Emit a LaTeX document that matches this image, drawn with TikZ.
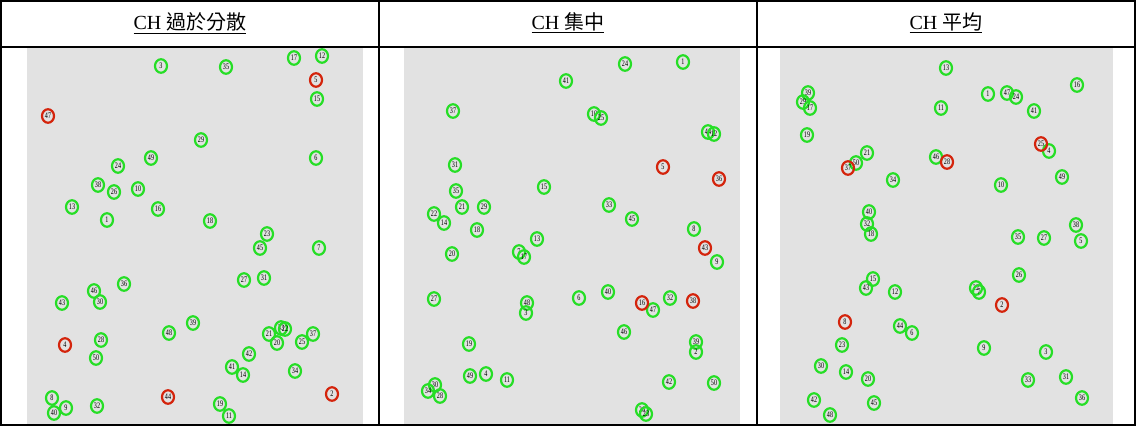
\documentclass[tikz,border=0pt]{standalone}
\usepackage{fontspec}
\setmainfont{Liberation Serif}
\newfontfamily\cjk{Noto Sans CJK TC}
\usepackage{xcolor}
\usetikzlibrary{positioning,shapes.geometric}

\definecolor{plotbg}{RGB}{226,226,226}
\definecolor{chgreen}{RGB}{38,222,38}
\definecolor{chred}{RGB}{212,36,12}

\tikzset{
  sensor/.style={ellipse,draw=chgreen,line width=2.2pt,inner sep=0pt,
    minimum width=12pt,minimum height=13.5pt,font=\fontsize{8.5}{8.5}\selectfont},
  head/.style={sensor,draw=chred},
  title/.style={font=\fontsize{20}{22}\selectfont,inner sep=0pt}
}
\newcommand{\idx}[1]{\scalebox{0.72}[1]{#1}}

\begin{document}
\begin{tikzpicture}[x=1pt,y=-1pt]
  \useasboundingbox (0,0) rectangle (1136,426);
  \fill[white] (0,0) rectangle (1136,426);
  % gray plot areas
  \fill[plotbg] (27,48) rectangle (363,425);
  \fill[plotbg] (404,48) rectangle (740,425);
  \fill[plotbg] (780,48) rectangle (1113,425);
  % table rules
  \draw[line width=1.2pt] (1,1) rectangle (1135,425);
  \draw[line width=1.2pt] (1,47)--(1135,47);
  \draw[line width=1.2pt] (379,1)--(379,425);
  \draw[line width=1.2pt] (757,1)--(757,425);
  % headers
  \node[title] (h1) at (190,23) {\underline{CH {\cjk 過於分散}}};
  \node[title] (h2) at (568,23) {\underline{CH {\cjk 集中}}};
  \node[title] (h3) at (946,23) {\underline{CH {\cjk 平均}}};
  % CH too scattered
  \foreach \n/\x/\y in {3/161/66,24/118/166,49/151/158,38/98/185,26/114/192,10/138/189,
      13/72/207,16/158/209,1/107/220,35/226/67,17/294/58,12/322/56,15/317/99,29/201/140,
      6/316/158,18/210/221,23/267/234,36/124/284,46/94/291,30/100/302,43/62/303,39/193/323,
      48/169/333,28/101/340,50/96/358,8/52/398,9/66/408,40/54/413,32/97/406,45/260/248,
      7/319/248,27/244/280,31/264/278,21/269/334,33/281/328,22/285/329,20/277/343,
      25/302/342,37/313/334,42/249/354,41/232/367,14/243/375,34/295/371,19/220/404,11/229/416}
    \node[sensor] (a\n) at (\x,\y) {\idx{\n}};
  \foreach \n/\x/\y in {47/48/116,5/316/80,4/65/345,44/168/397,2/332/394}
    \node[head] (a\n) at (\x,\y) {\idx{\n}};
  % CH concentrated
  \foreach \n/\x/\y in {41/566/81,37/453/111,31/455/165,35/456/191,15/544/187,21/462/207,
      29/484/207,22/434/214,14/444/223,18/477/230,13/537/239,24/625/64,1/683/62,10/594/114,
      25/601/118,44/708/132,12/714/134,33/609/205,45/632/219,8/694/229,20/452/254,7/519/252,
      17/524/257,27/434/299,48/527/303,3/526/313,19/469/344,49/470/376,4/486/374,11/507/380,
      30/435/385,34/428/391,28/440/396,9/717/262,6/579/298,40/608/292,47/653/310,32/670/298,
      46/624/332,39/696/342,2/696/352,42/669/382,50/714/383,26/642/410,23/646/414}
    \node[sensor] (b\n) at (\x,\y) {\idx{\n}};
  \foreach \n/\x/\y in {5/663/167,36/719/179,43/705/248,16/642/303,38/693/301}
    \node[head] (b\n) at (\x,\y) {\idx{\n}};
  % CH even
  \foreach \n/\x/\y in {13/946/68,39/808/93,29/803/102,17/810/108,11/941/108,19/807/135,
      21/867/153,50/856/163,46/936/157,34/893/180,40/869/212,32/867/224,18/871/234,1/988/94,
      47/1007/93,24/1016/97,16/1077/85,41/1034/111,4/1049/151,49/1062/177,10/1001/185,
      38/1076/225,35/1018/237,27/1044/238,5/1081/241,15/873/279,43/866/288,12/895/292,
      44/900/326,6/912/333,23/842/345,30/821/366,14/846/372,20/868/379,42/814/400,45/874/403,
      48/830/415,26/1019/275,22/976/288,7/979/292,9/984/348,3/1046/352,33/1028/380,
      31/1066/377,36/1082/398}
    \node[sensor] (c\n) at (\x,\y) {\idx{\n}};
  \foreach \n/\x/\y in {37/848/168,28/947/162,25/1041/144,8/845/322,2/1002/305}
    \node[head] (c\n) at (\x,\y) {\idx{\n}};
\end{tikzpicture}
\end{document}
